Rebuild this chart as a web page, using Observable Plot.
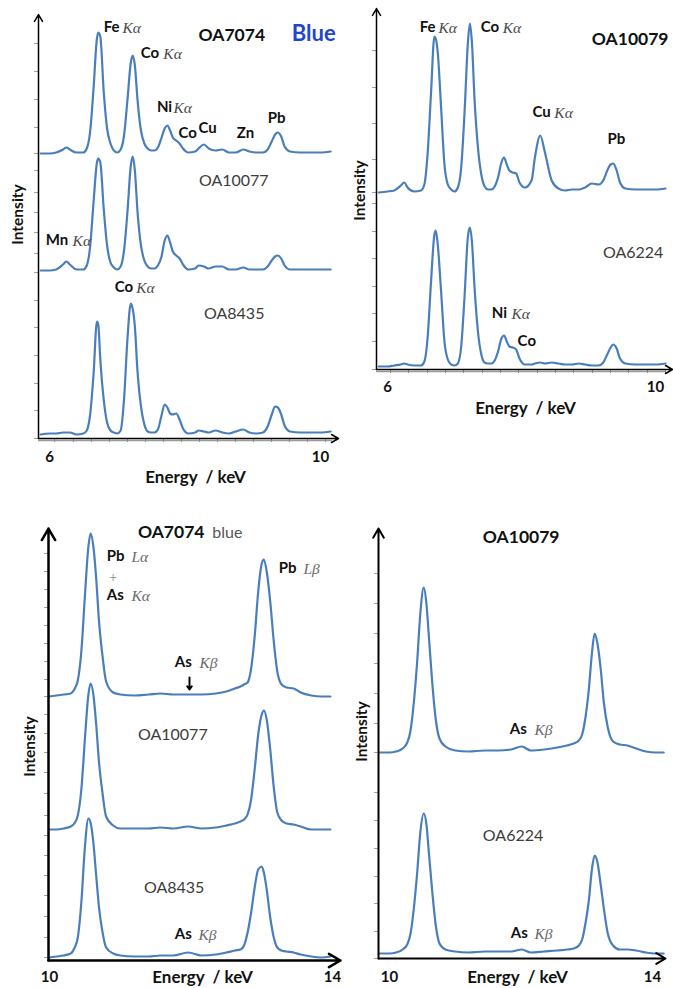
<!DOCTYPE html>
<html><head><meta charset="utf-8">
<script src="https://cdn.jsdelivr.net/npm/d3@7"></script>
<script src="https://cdn.jsdelivr.net/npm/@observablehq/plot@0.6"></script>
<style>
body{margin:0;background:#fff;}
#root{position:relative;width:673px;height:988px;font-family:Lato,sans-serif;}
.panel{position:absolute;}
</style></head><body><div id="root"></div>
<script>
// ---------- DATA (energy in keV as labelled on each axis; intensity in arbitrary units) ----------
const energyTop = [5.87,6.0,6.1,6.2,6.25,6.3,6.4,6.5,6.55,6.6,6.65,6.7,6.72,6.75,6.8,6.85,6.9,6.95,7.0,7.05,7.1,7.15,7.2,7.23,7.26,7.3,7.35,7.4,7.45,7.5,7.55,7.6,7.65,7.7,7.74,7.78,7.82,7.87,7.92,7.97,8.05,8.15,8.2,8.28,8.35,8.45,8.55,8.65,8.75,8.86,8.95,9.05,9.15,9.22,9.28,9.33,9.37,9.42,9.47,9.55,9.7,9.85,10.0,10.15];
const oa7074Top  = [0,0,1,4,6,4,1,1,5,22, 65,115,121,117,62,25,10,3,1,4, 18,53,91,98,88,53,23,10,5,3, 3,6,15,25,28,23,16,13,10,5, 1,2,5,9,5,3,4,1,1,4, 2,1,1,4,12,19,21,17,7,2, 1,1,1,2];
const oa10077Top = [0,0,1,6,9,6,1,1,5,24, 68,108,112,108,62,25,8,3,1,4, 20,58,105,114,100,58,25,10,4,2, 2,5,13,30,35,28,19,15,12,6, 1,2,5,4,2,4,4,1,1,3, 1,1,1,4,10,14,15,12,5,1, 1,1,1,1];
const oa8435Top  = [0,1,1,2,2,2,0,1,4,20, 60,113,110,75,35,12,4,2,1,4, 35,95,131,125,108,62,28,10,3,2, 2,5,18,30,27,21,20,21,15,6, 1,2,4,3,2,4,2,1,3,5, 2,1,2,8,20,28,27,20,9,3, 2,2,2,3];
const oa10079Top = [0,1,2,7,10,5,1,2,8,40, 100,156,154,140,85,28,8,3,1,5, 25,80,150,169,150,92,45,18,6,3, 3,6,15,30,35,28,22,20,19,10, 5,12,35,57,40,12,4,2,3,3, 5,9,8,12,22,28,29,22,10,4, 3,3,3,4];
const oa6224Top  = [0,0,1,2,3,2,1,1,5,30, 85,132,136,122,75,25,7,2,1,3, 20,70,130,139,125,78,35,12,4,3, 3,6,15,28,31,25,20,19,17,8, 2,2,3,4,3,4,3,2,2,3, 2,1,1,4,12,19,22,18,8,3, 2,2,2,3];

const energyBottomL = [9.99,10.1,10.2,10.3,10.35,10.4,10.45,10.5,10.55,10.58,10.62,10.66,10.7,10.75,10.8,10.9,11.0,11.2,11.4,11.57,11.75,11.96,12.15,12.35,12.5,12.62,12.7,12.75,12.8,12.85,12.9,12.95,13.0,13.03,13.07,13.12,13.17,13.22,13.28,13.35,13.45,13.55,13.7,13.85,13.97];
const oa7074Bottom  = [0,1,2,3,7,16,45,100,150,163, 150,118,75,40,15,4,2,1,2,3, 2,2,2,3,5,8,10,12,14,28, 60,105,133,137,125,95,55,25,12,9, 8,4,1,0,0];
const oa10077Bottom = [0,0,1,3,6,14,40,90,135,146, 135,105,67,36,13,4,1,1,1,2, 1,3,1,2,4,6,8,10,15,30, 60,95,115,119,110,80,42,17,9,6, 5,3,0,0,0];
const oa8435Bottom  = [0,1,2,4,9,20,55,110,139,135, 115,82,50,25,10,4,2,1,1,2, 2,5,2,3,5,7,8,12,25,45, 70,88,91,85,68,40,20,10,7,6, 5,3,1,0,1];

const energyBottomR = [9.85,10.0,10.1,10.2,10.27,10.32,10.37,10.42,10.47,10.52,10.56,10.6,10.65,10.7,10.76,10.85,11.0,11.2,11.45,11.65,11.85,12.01,12.15,12.35,12.55,12.7,12.8,12.88,12.93,12.98,13.03,13.08,13.12,13.16,13.21,13.26,13.32,13.4,13.5,13.62,13.75,13.9,14.05,14.17];
const oa10079Bottom = [0,0,1,4,10,22,50,90,140,165, 150,115,70,35,14,6,2,1,2,2, 3,6,2,3,5,7,9,12,18,35, 62,100,119,110,85,50,25,11,8,7, 4,1,0,0];
const oa6224Bottom  = [0,0,1,4,9,20,45,80,122,140, 130,100,62,30,10,4,2,1,2,2, 2,4,1,2,3,4,5,8,14,30, 52,85,98,92,70,45,20,8,4,4, 3,1,0,0];

// vertical stacking offsets of each spectrum
const offsetsTL = {OA7074: 285, OA10077: 168, OA8435: 4};
const offsetsTR = {OA10079: 177, OA6224: 3};
const offsetsBL = {OA7074: 264, OA10077: 131, OA8435: 3};
const offsetsBR = {OA10079: 206, OA6224: 5};

// axis tick positions / labels
const xTickLabelsTop = [6, 10];
const xTickLabelsBottom = [10, 14];
const xMinorTL = [6.074,6.354,6.620,6.886,7.151,7.417,7.683,7.948,8.214,8.480,8.745,9.011,9.277,9.542,9.808,10.074];
const xMinorTR = [6.045,6.313,6.597,6.866,7.134,7.418,7.687,7.955,8.239,8.507,8.776,9.060,9.328,9.597,9.881,10.149];
const yMinorTL = [395,367,339,311,285,268,246,226,206,185,166,138,111,83,55,28,0];
const yMinorTR = [319,282,246,210,177,166,138,111,83,56,28,0];
const yMinorBL = [407,389,371,353,335,317,299,281,264,246,227,208,188,167,145,125,105,85,65,44,23,3];
const yMinorBR = [385,355,325,295,265,235,206,166,138,110,82,55,27,0];

// annotations
const labelsTL = [
  {t:"Fe", x:6.800, y:411, s:"el"}, {t:"Kα", x:7.077, y:410, s:"ln"},
  {t:"Co", x:7.345, y:385, s:"el"}, {t:"Kα", x:7.680, y:384, s:"ln"},
  {t:"Ni", x:7.585, y:331, s:"el"}, {t:"Kα", x:7.830, y:330, s:"ln"},
  {t:"Co", x:7.905, y:305, s:"el"}, {t:"Cu", x:8.200, y:310, s:"el"},
  {t:"Zn", x:8.765, y:305, s:"el"}, {t:"Pb", x:9.220, y:320, s:"el"},
  {t:"Mn", x:5.945, y:198, s:"el"}, {t:"Kα", x:6.340, y:197, s:"ln"},
  {t:"Co", x:6.962, y:151, s:"el"}, {t:"Kα", x:7.280, y:150, s:"ln"},
  {t:"OA7074", x:8.200, y:403, s:"title"}, {t:"Blue", x:9.575, y:405, s:"blue"},
  {t:"OA10077", x:8.205, y:258, s:"sample"}, {t:"OA8435", x:8.280, y:125, s:"sample"}
];
const labelsTR = [
  {t:"Fe", x:6.480, y:342, s:"el"}, {t:"Kα", x:6.760, y:341, s:"ln"},
  {t:"Co", x:7.390, y:342, s:"el"}, {t:"Kα", x:7.720, y:341, s:"ln"},
  {t:"OA10079", x:9.050, y:330, s:"title"},
  {t:"Cu", x:8.165, y:257, s:"el"}, {t:"Kα", x:8.490, y:256, s:"ln"},
  {t:"Pb", x:9.285, y:230, s:"el"},
  {t:"OA6224", x:9.215, y:117, s:"sample"},
  {t:"Ni", x:7.555, y:56, s:"el"}, {t:"Kα", x:7.850, y:55, s:"ln"},
  {t:"Co", x:7.942, y:28, s:"el"}
];
const labelsBL = [
  {t:"OA7074", x:11.250, y:428, s:"title"}, {t:"blue", x:12.300, y:428, s:"note"},
  {t:"Pb", x:10.810, y:404, s:"el"}, {t:"Lα", x:11.159, y:403, s:"ln2"},
  {t:"+", x:10.830, y:383, s:"plus"},
  {t:"As", x:10.810, y:365, s:"el"}, {t:"Kα", x:11.159, y:364, s:"ln2"},
  {t:"Pb", x:13.240, y:392, s:"el"}, {t:"Lβ", x:13.590, y:391, s:"ln2"},
  {t:"As", x:11.770, y:298, s:"el"}, {t:"Kβ", x:12.120, y:297, s:"ln2"},
  {t:"OA10077", x:11.250, y:226, s:"sample"},
  {t:"OA8435", x:11.335, y:73, s:"sample"},
  {t:"As", x:11.770, y:26, s:"el"}, {t:"Kβ", x:12.106, y:25, s:"ln2"}
];
const labelsBR = [
  {t:"OA10079", x:11.420, y:421, s:"title"},
  {t:"As", x:11.830, y:229, s:"el"}, {t:"Kβ", x:12.205, y:228, s:"ln2"},
  {t:"OA6224", x:11.420, y:123, s:"sample"},
  {t:"As", x:11.845, y:25, s:"el"}, {t:"Kβ", x:12.205, y:24, s:"ln2"}
];

// ---------- STYLES ----------
const LINE_COLOR = "#4a7ebb";
const STYLES = {
  el:     {fontWeight:"bold", fontSize:15, fill:"#111", fontFamily:"Lato"},
  ln:     {fontStyle:"italic", fontSize:15.5, fill:"#4a4a4a", fontFamily:"Liberation Serif"},
  ln2:    {fontStyle:"italic", fontSize:15.5, fill:"#6a6a6a", fontFamily:"Liberation Serif"},
  title:  {fontWeight:"bold", fontSize:17.5, fill:"#111", fontFamily:"Lato"},
  blue:   {fontWeight:"bold", fontSize:22, fill:"#1f45d0", fontFamily:"Lato"},
  sample: {fontSize:16, fill:"#3c3c3c", fontFamily:"Lato"},
  note:   {fontSize:16, fill:"#555", fontFamily:"Lato"},
  plus:   {fontSize:14, fill:"#888", fontFamily:"Liberation Serif", fontStyle:"italic"}
};

function makePanel(p) {
  const [x0, x1] = p.xDomain;
  const frameW = p.width - p.marginLeft - p.marginRight;
  const k = (x1 - x0) / frameW;
  const rows = p.series.flatMap(s => p.energy.map((e, i) => ({name: s.name, e, v: s.offset + s.values[i]})));
  const marks = [];
  marks.push(Plot.ruleY(p.yTicks, {x1: x0 - 4 * k, x2: x0, stroke: "#a0a0a0", strokeWidth: 1}));
  if (p.xTicks) {
    marks.push(Plot.ruleY([-2], {x1: x0, x2: x1 - 6 * k, stroke: "#9a9a9a", strokeWidth: 1.5}));
    marks.push(Plot.ruleX(p.xTicks, {y1: 0, y2: -4, stroke: "#8a8a8a", strokeWidth: 1}));
  }
  marks.push(Plot.line(rows, {x: "e", y: "v", z: "name", stroke: LINE_COLOR, strokeWidth: 2.2, curve: "monotone-x"}));
  marks.push(Plot.arrow([{a: x0, b: 0, c: x0, d: p.yMax}, {a: x0, b: 0, c: x1, d: 0}],
    {x1: "a", y1: "b", x2: "c", y2: "d", stroke: "#000", strokeWidth: p.axisWidth, headLength: 8, headAngle: 60}));
  if (p.extra) marks.push(...p.extra);
  marks.push(Plot.text(p.xLabels, {x: d => d, y: 0, dy: p.tickDy, text: d => String(d), fontWeight: "bold", fontSize: 15, fill: "#111", fontFamily: "Lato", textAnchor: "middle"}));
  marks.push(Plot.text([p.energyLabel], {x: "x", y: "y", text: () => "Energy\u00a0\u00a0/\u00a0keV", fontWeight: "bold", fontSize: 17, fill: "#111", fontFamily: "Lato", textAnchor: "middle"}));
  marks.push(Plot.text([p.intensityLabel], {x: "x", y: "y", text: () => "Intensity", rotate: -90, fontWeight: "bold", fontSize: 15.5, fill: "#111", fontFamily: "Lato", textAnchor: "middle"}));
  for (const [name, st] of Object.entries(STYLES)) {
    const sub = p.labels.filter(d => d.s === name);
    if (sub.length) marks.push(Plot.text(sub, {x: "x", y: "y", text: "t", textAnchor: "start", ...st}));
  }
  const svg = Plot.plot({
    width: p.width, height: p.height,
    marginLeft: p.marginLeft, marginRight: p.marginRight, marginTop: p.marginTop, marginBottom: p.marginBottom,
    x: {domain: p.xDomain, axis: null},
    y: {domain: [0, p.yMax], axis: null},
    style: {fontFamily: "Lato", overflow: "visible", background: "transparent"},
    marks
  });
  const div = document.createElement("div");
  div.className = "panel";
  div.style.left = p.left + "px";
  div.style.top = p.top + "px";
  div.appendChild(svg);
  document.getElementById("root").appendChild(div);
}

makePanel({
  left: 0, top: 0, width: 340, height: 495,
  marginLeft: 38, marginRight: 2, marginTop: 14, marginBottom: 57,
  xDomain: [5.8376, 10.2657], yMax: 424, axisWidth: 1.5,
  energy: energyTop,
  series: [
    {name: "OA7074", offset: offsetsTL.OA7074, values: oa7074Top},
    {name: "OA10077", offset: offsetsTL.OA10077, values: oa10077Top},
    {name: "OA8435", offset: offsetsTL.OA8435, values: oa8435Top}
  ],
  yTicks: yMinorTL, xTicks: xMinorTL, xLabels: xTickLabelsTop, tickDy: 19,
  energyLabel: {x: 8.155, y: -39}, intensityLabel: {x: 5.542, y: 224},
  labels: labelsTL
});

makePanel({
  left: 340, top: 0, width: 333, height: 420,
  marginLeft: 36, marginRight: 1, marginTop: 8, marginBottom: 51,
  xDomain: [5.8358, 10.2537], yMax: 361, axisWidth: 1.5,
  energy: energyTop,
  series: [
    {name: "OA10079", offset: offsetsTR.OA10079, values: oa10079Top},
    {name: "OA6224", offset: offsetsTR.OA6224, values: oa6224Top}
  ],
  yTicks: yMinorTR, xTicks: xMinorTR, xLabels: xTickLabelsTop, tickDy: 18,
  energyLabel: {x: 8.060, y: -39}, intensityLabel: {x: 5.597, y: 179},
  labels: labelsTR
});

makePanel({
  left: 0, top: 500, width: 340, height: 488,
  marginLeft: 48, marginRight: 0, marginTop: 28, marginBottom: 28,
  xDomain: [9.9859, 14.1131], yMax: 432, axisWidth: 2.5,
  energy: energyBottomL,
  series: [
    {name: "OA7074", offset: offsetsBL.OA7074, values: oa7074Bottom},
    {name: "OA10077", offset: offsetsBL.OA10077, values: oa10077Bottom},
    {name: "OA8435", offset: offsetsBL.OA8435, values: oa8435Bottom}
  ],
  yTicks: yMinorBL, xTicks: null, xLabels: xTickLabelsBottom, tickDy: 17,
  energyLabel: {x: 12.163, y: -17}, intensityLabel: {x: 9.731, y: 214},
  labels: labelsBL,
  extra: [Plot.arrow([{a: 11.979, b: 283, c: 11.979, d: 271}], {x1: "a", y1: "b", x2: "c", y2: "d", stroke: "#000", strokeWidth: 2, headLength: 5, headAngle: 70})]
});

makePanel({
  left: 340, top: 500, width: 333, height: 488,
  marginLeft: 38, marginRight: 8, marginTop: 28, marginBottom: 30,
  xDomain: [9.8327, 14.1977], yMax: 430, axisWidth: 2,
  energy: energyBottomR,
  series: [
    {name: "OA10079", offset: offsetsBR.OA10079, values: oa10079Bottom},
    {name: "OA6224", offset: offsetsBR.OA6224, values: oa6224Bottom}
  ],
  yTicks: yMinorBR, xTicks: null, xLabels: xTickLabelsBottom, tickDy: 19,
  energyLabel: {x: 11.947, y: -19}, intensityLabel: {x: 9.589, y: 227},
  labels: labelsBR
});
</script></body></html>
